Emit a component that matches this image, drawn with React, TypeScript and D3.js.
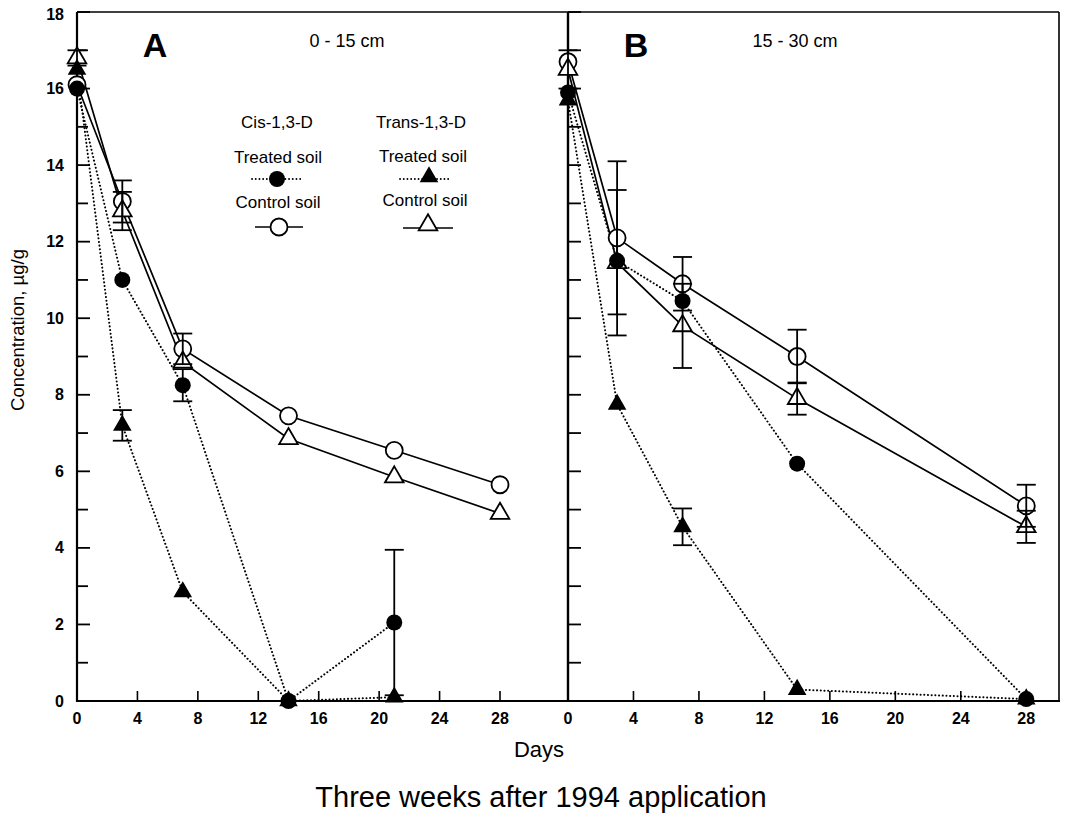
import React from 'react';
import * as d3 from 'd3';

// ---------- data ----------
const daysA = [0, 3, 7, 14, 21, 28];
const daysATreated = [0, 3, 7, 14, 21];
const daysB = [0, 3, 7, 14, 28];

const cisTreatedA = [16.0, 11.0, 8.25, 0.0, 2.05];
const cisTreatedAErr = [0, 0, 0.42, 0, 1.9];
const transTreatedA = [16.5, 7.2, 2.85, 0.0, 0.1];
const transTreatedAErr = [0, 0.4, 0, 0, 0];
const cisControlA = [16.1, 13.05, 9.2, 7.45, 6.55, 5.65];
const cisControlAErr = [0, 0.55, 0.4, 0, 0, 0];
const transControlA = [16.8, 12.8, 8.85, 6.85, 5.85, 4.9];
const transControlAErr = [0.2, 0.5, 0, 0, 0, 0];

const cisTreatedB = [15.9, 11.5, 10.45, 6.2, 0.05];
const cisTreatedBErr = [0, 0, 0, 0, 0];
const transTreatedB = [15.7, 7.75, 4.55, 0.3, 0.05];
const transTreatedBErr = [0, 0, 0.48, 0, 0];
const cisControlB = [16.7, 12.1, 10.9, 9.0, 5.1];
const cisControlBErr = [0, 2.0, 0.7, 0.7, 0.55];
const transControlB = [16.5, 11.45, 9.8, 7.9, 4.55];
const transControlBErr = [0.5, 1.9, 1.1, 0.42, 0.42];

const xTickValues = [0, 4, 8, 12, 16, 20, 24, 28];
const yMajorTicks = [0, 2, 4, 6, 8, 10, 12, 14, 16, 18];
const yMinorTicks = [1, 3, 5, 7, 9, 11, 13, 15, 17];

const panelLabels = ['A', 'B'];
const depthLabels = ['0 - 15 cm', '15 - 30 cm'];
const compoundLabels = ['Cis-1,3-D', 'Trans-1,3-D'];
const soilLabels = ['Treated soil', 'Control soil'];
const yTitle = 'Concentration, µg/g';
const xTitle = 'Days';
const mainTitle = 'Three weeks after 1994 application';

// ---------- layout ----------
const W = 1067;
const H = 818;
const FONT = "'Liberation Sans', Arial, Helvetica, sans-serif";

const xA = d3.scaleLinear().domain([0, 32.5]).range([77, 568]);
const xB = d3.scaleLinear().domain([0, 30]).range([568, 1059]);
const y = d3.scaleLinear().domain([0, 18]).range([701, 12]);

type Marker = 'filledCircle' | 'openCircle' | 'filledTri' | 'openTri';

interface Series {
  x: d3.ScaleLinear<number, number>;
  days: number[];
  vals: number[];
  errs: number[];
  marker: Marker;
  dotted: boolean;
}

const series: Series[] = [
  { x: xA, days: daysA, vals: cisControlA, errs: cisControlAErr, marker: 'openCircle', dotted: false },
  { x: xA, days: daysA, vals: transControlA, errs: transControlAErr, marker: 'openTri', dotted: false },
  { x: xA, days: daysATreated, vals: cisTreatedA, errs: cisTreatedAErr, marker: 'filledCircle', dotted: true },
  { x: xA, days: daysATreated, vals: transTreatedA, errs: transTreatedAErr, marker: 'filledTri', dotted: true },
  { x: xB, days: daysB, vals: cisControlB, errs: cisControlBErr, marker: 'openCircle', dotted: false },
  { x: xB, days: daysB, vals: transControlB, errs: transControlBErr, marker: 'openTri', dotted: false },
  { x: xB, days: daysB, vals: cisTreatedB, errs: cisTreatedBErr, marker: 'filledCircle', dotted: true },
  { x: xB, days: daysB, vals: transTreatedB, errs: transTreatedBErr, marker: 'filledTri', dotted: true },
];

const triPath = d3.symbol().type(d3.symbolTriangle).size(150)() as string;

function MarkerShape({ cx, cy, m }: { cx: number; cy: number; m: Marker }) {
  if (m === 'filledCircle') return <circle cx={cx} cy={cy} r={8} fill="#000" />;
  if (m === 'openCircle') return <circle cx={cx} cy={cy} r={8.5} fill="#fff" stroke="#000" strokeWidth={1.8} />;
  if (m === 'filledTri') return <path d={triPath} transform={`translate(${cx},${cy})`} fill="#000" />;
  return <path d={triPath} transform={`translate(${cx},${cy})`} fill="#fff" stroke="#000" strokeWidth={1.8} />;
}

const DOT = '0.1,3.6';

export default function App() {
  const line = (s: Series) =>
    d3
      .line<number>()
      .x((_, i) => s.x(s.days[i]))
      .y((v) => y(v))(s.vals) as string;

  return (
    <div style={{ position: 'absolute', left: 0, top: 0 }}>
      <svg width={W} height={H} viewBox={`0 0 ${W} ${H}`} style={{ display: 'block', background: '#fff' }} fontFamily={FONT}>
        <rect x={0} y={0} width={W} height={H} fill="#fff" />

        {/* frame */}
        <line x1={77} x2={1059} y1={12} y2={12} stroke="#000" strokeWidth={1.6} />
        <line x1={77} x2={77} y1={12} y2={702} stroke="#000" strokeWidth={2.2} />
        <line x1={568} x2={568} y1={12} y2={702} stroke="#000" strokeWidth={2.4} />
        <line x1={1059} x2={1059} y1={12} y2={702} stroke="#000" strokeWidth={1.6} />
        <line x1={76} x2={1060} y1={701} y2={701} stroke="#000" strokeWidth={2.2} />

        {/* y ticks panel A */}
        {yMajorTicks.map((t) => (
          <g key={'ya' + t}>
            <line x1={77} x2={90} y1={y(t)} y2={y(t)} stroke="#000" strokeWidth={1.8} />
            <text x={64} y={y(t) + (t === 18 ? 2 : 0)} textAnchor="end" dominantBaseline="central" fontSize={16} fontWeight="bold">
              {t}
            </text>
          </g>
        ))}
        {yMinorTicks.map((t) => (
          <line key={'yam' + t} x1={77} x2={88} y1={y(t)} y2={y(t)} stroke="#000" strokeWidth={1.8} />
        ))}
        {/* y ticks panel B */}
        {yMajorTicks.concat(yMinorTicks).map((t) => (
          <line key={'yb' + t} x1={568} x2={581} y1={y(t)} y2={y(t)} stroke="#000" strokeWidth={1.8} />
        ))}

        {/* x ticks */}
        {[xA, xB].map((xs, pi) =>
          xTickValues.map((t) => (
            <g key={'x' + pi + t}>
              {t > 0 && <line x1={xs(t)} x2={xs(t)} y1={701} y2={691} stroke="#000" strokeWidth={1.6} />}
              <text x={xs(t)} y={724} textAnchor="middle" fontSize={16} fontWeight="bold">
                {t}
              </text>
            </g>
          ))
        )}

        {/* series lines */}
        {series.map((s, i) => (
          <path
            key={'l' + i}
            d={line(s)}
            fill="none"
            stroke="#000"
            strokeWidth={s.dotted ? 2 : 1.7}
            strokeDasharray={s.dotted ? DOT : undefined}
            strokeLinecap={s.dotted ? 'round' : 'butt'}
          />
        ))}

        {/* markers */}
        {series.map((s, i) =>
          s.vals.map((v, j) => <MarkerShape key={'m' + i + '_' + j} cx={s.x(s.days[j])} cy={y(v)} m={s.marker} />)
        )}

        {/* error bars */}
        {series.map((s, i) =>
          s.vals.map((v, j) => {
            const e = s.errs[j];
            if (!e) return null;
            const cx = s.x(s.days[j]);
            const y1 = y(v + e);
            const y2 = y(Math.max(0, v - e));
            return (
              <g key={'e' + i + '_' + j} stroke="#000" strokeWidth={1.8}>
                <line x1={cx} x2={cx} y1={y1} y2={y2} />
                <line x1={cx - 9.5} x2={cx + 9.5} y1={y1} y2={y1} />
                <line x1={cx - 9.5} x2={cx + 9.5} y1={y2} y2={y2} />
              </g>
            );
          })
        )}

        {/* panel labels */}
        <text x={155} y={57} textAnchor="middle" fontSize={34} fontWeight="bold">{panelLabels[0]}</text>
        <text x={636} y={57} textAnchor="middle" fontSize={34} fontWeight="bold">{panelLabels[1]}</text>
        <text x={347} y={47} textAnchor="middle" fontSize={18}>{depthLabels[0]}</text>
        <text x={795} y={47} textAnchor="middle" fontSize={18}>{depthLabels[1]}</text>

        {/* legend */}
        <g fontSize={17} textAnchor="middle">
          <text x={277} y={128}>{compoundLabels[0]}</text>
          <text x={421} y={128}>{compoundLabels[1]}</text>
          <text x={278} y={163}>{soilLabels[0]}</text>
          <text x={423} y={162}>{soilLabels[0]}</text>
          <text x={278} y={208}>{soilLabels[1]}</text>
          <text x={425} y={206}>{soilLabels[1]}</text>
        </g>
        <line x1={252} x2={301} y1={179} y2={179} stroke="#000" strokeWidth={1.8} strokeDasharray={DOT} strokeLinecap="round" />
        <MarkerShape cx={277} cy={179} m="filledCircle" />
        <line x1={400} x2={449} y1={179} y2={179} stroke="#000" strokeWidth={1.8} strokeDasharray={DOT} strokeLinecap="round" />
        <MarkerShape cx={429} cy={177} m="filledTri" />
        <line x1={255} x2={303} y1={227} y2={227} stroke="#000" strokeWidth={1.7} />
        <MarkerShape cx={279} cy={227} m="openCircle" />
        <line x1={403} x2={453} y1={228} y2={228} stroke="#000" strokeWidth={1.7} />
        <MarkerShape cx={428} cy={225} m="openTri" />

        {/* axis titles */}
        <text transform="translate(24,330) rotate(-90)" textAnchor="middle" fontSize={18.5}>{yTitle}</text>
        <text x={539} y={757} textAnchor="middle" fontSize={22}>{xTitle}</text>
        <text x={541} y={807} textAnchor="middle" fontSize={29}>{mainTitle}</text>
      </svg>
    </div>
  );
}
